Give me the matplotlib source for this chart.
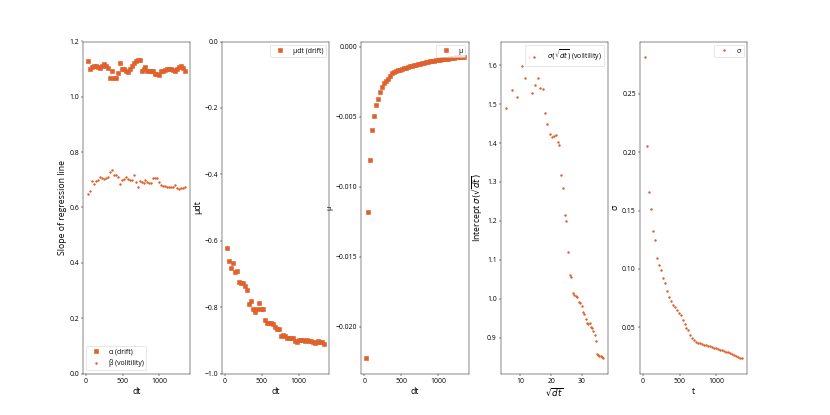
import numpy as np
import matplotlib
matplotlib.use("Agg")
import matplotlib.pyplot as plt
from matplotlib.ticker import MultipleLocator

plt.rcParams['font.family'] = ['Open Sans', 'DejaVu Sans']
plt.rcParams['mathtext.fontset'] = 'dejavusans'
plt.rcParams['xtick.labelsize'] = 12
plt.rcParams['ytick.labelsize'] = 12
plt.rcParams['legend.fontsize'] = 12

# time steps used for the regressions
dt = np.arange(27, 1351, 27)
sqrt_dt = np.sqrt(dt)

alpha = [1.131, 1.099, 1.107, 1.113, 1.110, 1.107, 1.105, 1.110, 1.117, 1.110,
         1.105, 1.068, 1.095, 1.068, 1.068, 1.086, 1.123, 1.101, 1.101, 1.093,
         1.089, 1.100, 1.113, 1.123, 1.131, 1.134, 1.134, 1.095, 1.099, 1.107,
         1.095, 1.095, 1.093, 1.093, 1.081, 1.081, 1.080, 1.095, 1.095, 1.097,
         1.099, 1.099, 1.099, 1.097, 1.093, 1.099, 1.107, 1.111, 1.105, 1.095]

beta = [0.647, 0.659, 0.695, 0.686, 0.695, 0.700, 0.710, 0.706, 0.704, 0.707,
        0.710, 0.728, 0.734, 0.719, 0.716, 0.710, 0.686, 0.698, 0.704, 0.710,
        0.704, 0.698, 0.700, 0.716, 0.692, 0.674, 0.695, 0.692, 0.690, 0.698,
        0.692, 0.688, 0.690, 0.706, 0.706, 0.706, 0.692, 0.683, 0.676, 0.676,
        0.674, 0.674, 0.674, 0.674, 0.683, 0.671, 0.667, 0.669, 0.671, 0.674]

mu_dt = [-0.621, -0.662, -0.681, -0.666, -0.694, -0.692, -0.724, -0.727, -0.727, -0.737,
         -0.749, -0.792, -0.782, -0.807, -0.815, -0.807, -0.787, -0.807, -0.807, -0.838,
         -0.848, -0.848, -0.848, -0.850, -0.860, -0.865, -0.865, -0.888, -0.885, -0.888,
         -0.892, -0.892, -0.892, -0.892, -0.903, -0.905, -0.900, -0.900, -0.900, -0.902,
         -0.900, -0.901, -0.902, -0.905, -0.908, -0.905, -0.903, -0.904, -0.906, -0.912]

mu = [-0.02226, -0.01183, -0.00812, -0.00595, -0.00498, -0.00414, -0.00371, -0.00326, -0.00290, -0.00262,
      -0.00243, -0.00229, -0.00210, -0.00190, -0.00183, -0.00177, -0.00170, -0.00165, -0.00160, -0.00155,
      -0.00150, -0.00145, -0.00140, -0.00136, -0.00132, -0.00128, -0.00124, -0.00121, -0.00118, -0.00115,
      -0.00112, -0.00109, -0.00106, -0.00103, -0.00100, -0.00098, -0.00095, -0.00093, -0.00091, -0.00089,
      -0.00087, -0.00085, -0.00083, -0.00081, -0.00079, -0.00077, -0.00076, -0.00074, -0.00072, -0.00071]

intercept = [1.491, 1.535, 1.519, 1.599, 1.568, 1.622, 1.529, 1.549, 1.568, 1.542,
             1.538, 1.478, 1.450, 1.424, 1.416, 1.418, 1.420, 1.403, 1.394, 1.317,
             1.285, 1.214, 1.201, 1.120, 1.061, 1.056, 1.016, 1.009, 1.008, 1.005,
             0.992, 0.988, 0.981, 0.965, 0.962, 0.947, 0.938, 0.935, 0.937, 0.928,
             0.924, 0.917, 0.907, 0.891, 0.858, 0.856, 0.854, 0.852, 0.850, 0.847]

sigma = [0.2820, 0.2050, 0.1660, 0.1510, 0.1325, 0.1250, 0.1094, 0.1037, 0.0988, 0.0920,
         0.0877, 0.0808, 0.0763, 0.0723, 0.0695, 0.0672, 0.0649, 0.0626, 0.0603, 0.0560,
         0.0532, 0.0495, 0.0475, 0.0435, 0.0404, 0.0395, 0.0375, 0.0369, 0.0361, 0.0356,
         0.0351, 0.0346, 0.0341, 0.0336, 0.0330, 0.0325, 0.0319, 0.0314, 0.0309, 0.0303,
         0.0298, 0.0292, 0.0285, 0.0278, 0.0271, 0.0262, 0.0252, 0.0245, 0.0240, 0.0233]

c = '#e0612b'
lab = 15

fig, axs = plt.subplots(1, 5, figsize=(20, 10), dpi=41.5)
fig.subplots_adjust(left=0.1, right=0.9, top=0.9, bottom=0.1, wspace=0.3)

ax = axs[0]
ax.plot(dt, alpha, 's', color=c, label='α (drift)')
ax.plot(dt, beta, '.', color=c, label='β (volitility)')
ax.set_ylim(0, 1.2)
ax.set_xlabel('dt', fontsize=lab)
ax.set_ylabel('Slope of regression line', fontsize=lab)
ax.legend(loc='lower left')

ax = axs[1]
ax.plot(dt, mu_dt, 's', color=c, label='μdt (drift)')
ax.set_ylim(-1.0, 0.0)
ax.set_xlabel('dt', fontsize=lab)
ax.set_ylabel('μdt', fontsize=lab)
ax.legend(loc='upper right')

ax = axs[2]
ax.plot(dt, mu, 's', color=c, label='μ')
ax.set_xlabel('dt', fontsize=lab)
ax.set_ylabel('μ', fontsize=12)
ax.legend(loc='upper right')

ax = axs[3]
ax.plot(sqrt_dt, intercept, '.', color=c, label=r'$\sigma(\sqrt{dt})$ (volitility)')
ax.set_xlabel(r'$\sqrt{dt}$', fontsize=lab)
ax.set_ylabel(r'Intercept $\sigma(\sqrt{dt})$', fontsize=lab)
ax.legend(loc='upper right')

ax = axs[4]
ax.plot(dt, sigma, '.', color=c, label='σ')
ax.set_xlabel('t', fontsize=lab)
ax.set_ylabel('σ', fontsize=lab)
ax.legend(loc='upper right')

for ax in axs[[0, 1, 2, 4]]:
    ax.xaxis.set_major_locator(MultipleLocator(500))

fig.savefig('out.png', dpi=41.5)
